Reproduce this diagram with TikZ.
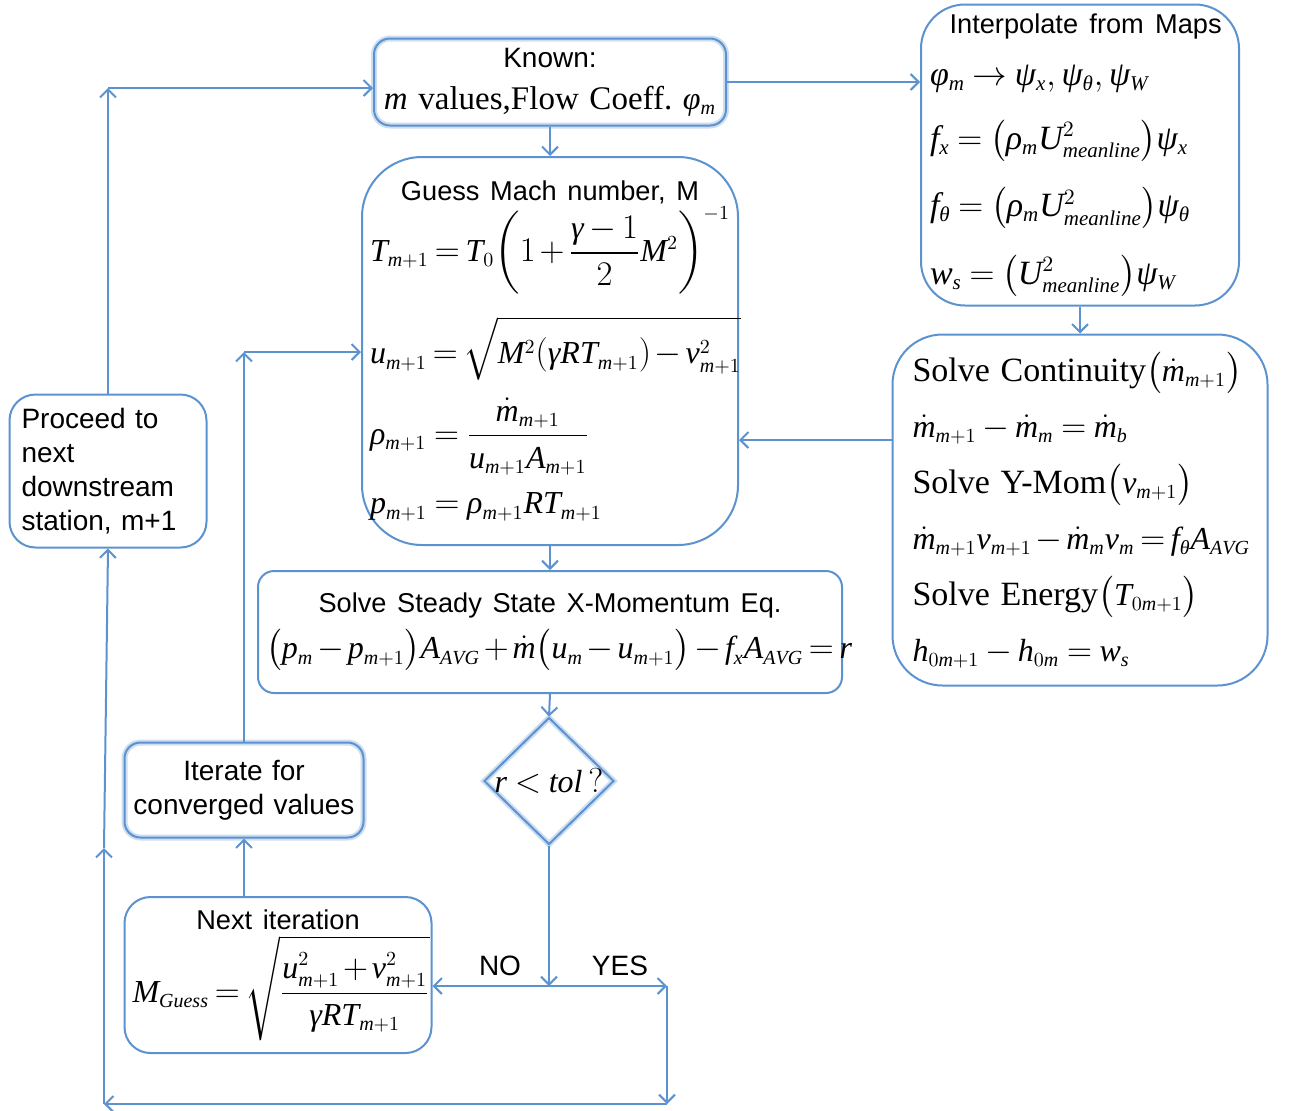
\documentclass[tikz,border=0pt]{standalone}
\usepackage{amsmath}
\usepackage{fontspec}
\setmainfont{Liberation Serif}
\setsansfont{Liberation Sans}
\usetikzlibrary{arrows.meta,shapes.geometric,calc}

% Times-like letters and digits in math
\DeclareSymbolFont{tletters}{TU}{\rmdefault}{m}{it}
\DeclareSymbolFont{tdigits}{TU}{\rmdefault}{m}{n}
\newcommand{\tlet}[1]{\DeclareMathSymbol{#1}{\mathalpha}{tletters}{`#1}}
\newcommand{\tdig}[1]{\DeclareMathSymbol{#1}{\mathalpha}{tdigits}{`#1}}
\tlet a\tlet b\tlet c\tlet d\tlet e\tlet f\tlet g\tlet h\tlet i\tlet j\tlet k\tlet l\tlet m
\tlet n\tlet o\tlet p\tlet q\tlet r\tlet s\tlet t\tlet u\tlet v\tlet w\tlet x\tlet y\tlet z
\tlet A\tlet B\tlet C\tlet D\tlet E\tlet F\tlet G\tlet H\tlet I\tlet J\tlet K\tlet L\tlet M
\tlet N\tlet O\tlet P\tlet Q\tlet R\tlet S\tlet T\tlet U\tlet V\tlet W\tlet X\tlet Y\tlet Z
\tdig 0\tdig 1\tdig 2\tdig 3\tdig 4\tdig 5\tdig 6\tdig 7\tdig 8\tdig 9
\AtBeginDocument{%
  \Umathchardef\gamma="0 \symtletters "03B3
  \Umathchardef\rho="0 \symtletters "03C1
  \Umathchardef\phi="0 \symtletters "03C6
  \Umathchardef\psi="0 \symtletters "03C8
  \Umathchardef\theta="0 \symtletters "03B8}
\DeclareMathSizes{17}{17}{10.5}{7.5}
\DeclareMathSizes{16}{16}{10}{7}

\definecolor{flowblue}{HTML}{5B92CF}
\newcommand{\boxtitle}[1]{{\centering\sffamily\fontsize{13.6}{17}\selectfont #1\par}}
\newcommand{\rmtext}[1]{{\fontsize{17}{20}\selectfont #1}}
\newcommand{\tight}{\thickmuskip=3mu\medmuskip=2mu}

\begin{document}
\begin{tikzpicture}[x=0.5pt,y=-0.5pt,
    box/.style={draw=flowblue,line width=1pt,rounded corners=#1,inner sep=4pt},
    box/.default=8pt,
    glow/.style={preaction={draw=flowblue!30,line width=3pt}},
    txt/.style={font=\sffamily\fontsize{14}{17}\selectfont},
    eq/.style={font=\fontsize{16}{20}\selectfont,
      execute at begin node={\frenchspacing\relpenalty=10000\binoppenalty=10000
        \medmuskip=3mu plus 1mu minus 1mu\thickmuskip=4mu plus 1mu minus 1mu}},
    link/.style={draw=flowblue,line width=1pt,-{Straight Barb[length=4pt,width=8pt]}}]
  \useasboundingbox (0,0) rectangle (1289,1110);

  \node[box,glow,eq,text width=168pt,minimum height=43.5pt,align=center] (known) at (550,82) {%
    {\sffamily\fontsize{14}{17}\selectfont Known:}\\[1pt]
    \mbox{{\fontsize{16.5}{20}\selectfont$m$ values,Flow Coeff.} $\phi_m$}};

  \node[box=30pt,eq,text width=180pt,minimum height=194pt,align=left,inner xsep=4pt] (guess) at (550,351) {%
    \boxtitle{Guess Mach number, M}
    $T_{m+1}=T_0\biggl(1+\dfrac{\gamma-1}{2}M^2\biggr)^{-1}$\\[10pt]
    $\tight u_{m+1}=\sqrt{\rule{0pt}{1.15em}M^2(\gamma RT_{m+1})-v_{m+1}^2}$\\[8pt]
    $\rho_{m+1}=\dfrac{\dot m_{m+1}}{u_{m+1}A_{m+1}}$\\[8pt]
    $p_{m+1}=\rho_{m+1}RT_{m+1}$};

  \node[box=22pt,eq,font=\fontsize{17}{20}\selectfont,text width=150pt,minimum height=150.5pt,align=left,inner xsep=4.5pt,inner ysep=0pt] (interp) at (1080,155) {%
    \vspace*{6pt}
    \boxtitle{Interpolate from Maps}
    $\phi_m\rightarrow\psi_x,\psi_\theta,\psi_W$\\[12pt]
    $f_x=\bigl(\rho_mU^2_{meanline}\bigr)\psi_x$\\[12pt]
    $f_\theta=\bigl(\rho_mU^2_{meanline}\bigr)\psi_\theta$\\[12pt]
    $w_s=\bigl(U^2_{meanline}\bigr)\psi_W$};

  \node[box=25pt,eq,text width=167.5pt,minimum height=175.5pt,align=left,inner xsep=10pt] (cont) at (1080,510) {%
    \mbox{\rmtext{Solve Continuity}$\bigl(\dot m_{m+1}\bigr)$}\\[8pt]
    $\dot m_{m+1}-\dot m_m=\dot m_b$\\[8pt]
    \mbox{\rmtext{Solve Y-Mom}$\bigl(v_{m+1}\bigr)$}\\[8pt]
    $\dot m_{m+1}v_{m+1}-\dot m_mv_m=f_\theta A_{AVG}$\\[8pt]
    \mbox{\rmtext{Solve Energy}$\bigl(T_{0m+1}\bigr)$}\\[8pt]
    $h_{0m+1}-h_{0m}=w_s$};

  \node[box,eq,text width=284pt,minimum height=61pt,align=center] (xmom) at (550,632) {%
    {\sffamily\fontsize{13.6}{17}\selectfont Solve Steady State X-Momentum Eq.}\\[3pt]
    $\tight\bigl(p_m-p_{m+1}\bigr)A_{AVG}+\dot m\bigl(u_m-u_{m+1}\bigr)-f_xA_{AVG}=r$\\[24pt]};

  \node[diamond,draw=flowblue,glow,line width=1pt,minimum width=65pt,minimum height=63.5pt,inner sep=0pt] (tol) at (549,781) {};
  \node[eq] (tollbl) at (tol.center) {$r<tol\,?$};

  \node[box,glow,txt,text width=111.5pt,minimum height=47.5pt,align=center] (iterate) at (244,790) {Iterate for\\converged values};

  \node[box=13pt,eq,text width=145.5pt,minimum height=78pt,align=left] (next) at (278,975) {%
    \boxtitle{Next iteration}
    \vspace{2pt}
    $\tight M_{Guess}=\sqrt{\dfrac{\rule{0pt}{0.95em}u^2_{m+1}+v^2_{m+1}}{\gamma RT_{m+1}}}$};

  \node[box=13pt,txt,text width=86.5pt,minimum height=76.5pt,align=left,inner xsep=6pt] (proceed) at (108,471) {Proceed to\\next\\downstream\\station, m+1};

  \node[txt] (nolbl) at (500,966) {NO};
  \node[txt] (yeslbl) at (620,966) {YES};

  \coordinate (contout) at ($(cont.west)+(0,-70)$);
  \coordinate (split) at (549,986);
  \coordinate (yescorner) at (667,986);
  \coordinate (botright) at (667,1104);
  \coordinate (botleft) at (104,1104);
  \coordinate (leftmid) at (104,848);
  \coordinate (topleft) at (108,88);
  \coordinate (itcorner) at (244,352);

  \draw[link] (known.east) -- (known.east -| interp.west);
  \draw[link] (known.south) -- (guess.north);
  \draw[link] (interp.south) -- (cont.north);
  \draw[link] (contout) -- (contout -| guess.east);
  \draw[link] (guess.south) -- (xmom.north);
  \draw[link] (xmom.south) -- (tol.north);
  \draw[link] (tol.south) -- (split);
  \draw[link] (split) -- (split -| next.east);
  \draw[link] (split) -- (yescorner);
  \draw[link] (yescorner) -- (botright);
  \draw[link] (botright) -- (botleft);
  \draw[link] (botleft) -- (leftmid);
  \draw[link] (leftmid) -- (proceed.south);
  \draw[link] (proceed.north) -- (topleft);
  \draw[link] (topleft) -- (topleft -| known.west);
  \draw[link] (iterate.south |- next.north) -- (iterate.south);
  \draw[link] (iterate.north) -- (itcorner);
  \draw[link] (itcorner) -- (itcorner -| guess.west);
\end{tikzpicture}
\end{document}
